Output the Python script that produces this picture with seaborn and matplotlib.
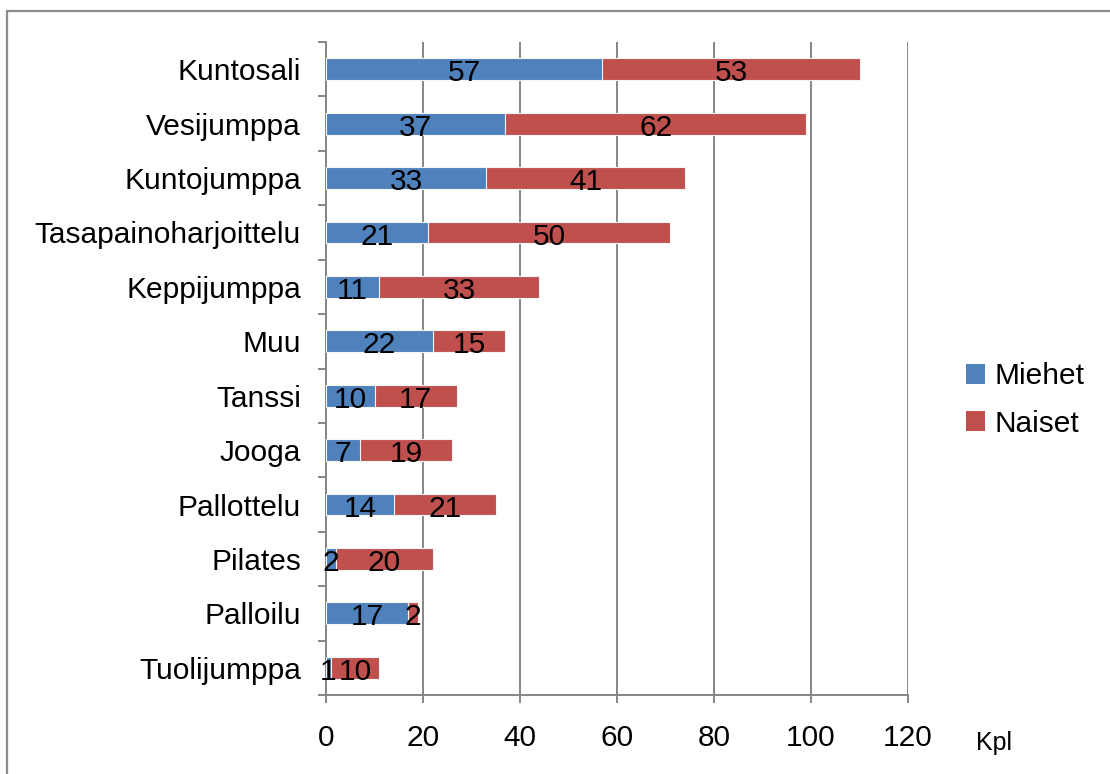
import numpy as np
import pandas as pd
import matplotlib
matplotlib.use("Agg")
import matplotlib.pyplot as plt
from matplotlib.lines import Line2D
from matplotlib.patches import Patch
import seaborn as sns

# Activities (top to bottom) and participant counts
categories = ["Kuntosali", "Vesijumppa", "Kuntojumppa", "Tasapainoharjoittelu",
              "Keppijumppa", "Muu", "Tanssi", "Jooga", "Pallottelu", "Pilates",
              "Palloilu", "Tuolijumppa"]
miehet = [57, 37, 33, 21, 11, 22, 10, 7, 14, 2, 17, 1]
naiset = [53, 62, 41, 50, 33, 15, 17, 19, 21, 20, 2, 10]
x_ticks = [0, 20, 40, 60, 80, 100, 120]
x_unit = "Kpl"
series_names = ["Miehet", "Naiset"]

BLUE = "#4F81BD"
RED = "#C0504D"
GRID = "#868686"
FS = 21.5

sns.set_style("white")
plt.rcParams["font.family"] = ["Liberation Sans", "DejaVu Sans"]
plt.rcParams["text.color"] = "black"
plt.rcParams["axes.labelcolor"] = "black"
plt.rcParams["xtick.color"] = "black"
plt.rcParams["ytick.color"] = "black"

df = pd.DataFrame({"cat": categories, "m": miehet, "n": naiset})
df["total"] = df["m"] + df["n"]

fig = plt.figure(figsize=(11.10, 7.74), dpi=100)
ax = fig.add_axes([326 / 1110, 1 - 695 / 774, (908 - 326) / 1110, (695 - 42) / 774])

# Stacked bars: total in red, men overlaid in blue from zero
sns.barplot(data=df, y="cat", x="total", order=categories, color=RED,
            width=0.4, saturation=1, edgecolor="#f4f4f4", linewidth=0.8, ax=ax, zorder=3)
sns.barplot(data=df, y="cat", x="m", order=categories, color=BLUE,
            width=0.4, saturation=1, edgecolor="#f4f4f4", linewidth=0.8, ax=ax, zorder=4)

# Segment value labels
for i, (m, n) in enumerate(zip(miehet, naiset)):
    ax.text(m / 2, i + 0.02, str(m), ha="center", va="center_baseline", fontsize=FS,
            color="black", zorder=5)
    ax.text(m + n / 2, i + 0.02, str(n), ha="center", va="center_baseline", fontsize=FS,
            color="black", zorder=5)

ax.set_xlim(0, 120)
ax.set_ylim(11.5, -0.5)
ax.set_xticks(x_ticks)
ax.set_xticklabels([str(v) for v in x_ticks])
ax.set_xlabel("")
ax.set_ylabel("")

ax.grid(axis="x", color=GRID, linewidth=1.4, zorder=0)
ax.grid(axis="y", visible=False)
ax.set_axisbelow(True)

for s in ["top", "right"]:
    ax.spines[s].set_visible(False)
for s in ["left", "bottom"]:
    ax.spines[s].set_visible(True)
    ax.spines[s].set_color(GRID)
    ax.spines[s].set_linewidth(1.4)

ax.tick_params(axis="x", which="major", direction="out", length=6, width=1.4,
               color=GRID, labelcolor="black", labelsize=FS, pad=15, bottom=True)
ax.tick_params(axis="y", which="major", length=0, labelsize=FS, labelcolor="black", pad=18)
ax.set_yticks(np.arange(-0.5, len(categories)), minor=True)
ax.tick_params(axis="y", which="minor", direction="out", length=6, width=1.4,
               color=GRID, left=True)

# Unit label to the right of the last tick
fig.text(994 / 1110, 1 - 743 / 774, x_unit, ha="center", va="center", fontsize=18,
         color="black")

# Legend
handles = [Patch(facecolor=BLUE, edgecolor="none"), Patch(facecolor=RED, edgecolor="none")]
fig.legend(handles, series_names, loc="center left", bbox_to_anchor=(939 / 1110, 1 - 400 / 774),
           frameon=False, fontsize=FS, handlelength=0.65, handleheight=0.65,
           handletextpad=0.3, labelspacing=0.65, labelcolor="black")

# Chart area border (top and left edges)
fig.add_artist(Line2D([7 / 1110, 7 / 1110], [0, 1 - 11 / 774], transform=fig.transFigure,
                      color="#8c8c8c", linewidth=1.6))
fig.add_artist(Line2D([7 / 1110, 1], [1 - 11 / 774, 1 - 11 / 774], transform=fig.transFigure,
                      color="#8c8c8c", linewidth=1.6))

fig.savefig("out.png", dpi=100, facecolor="white")
